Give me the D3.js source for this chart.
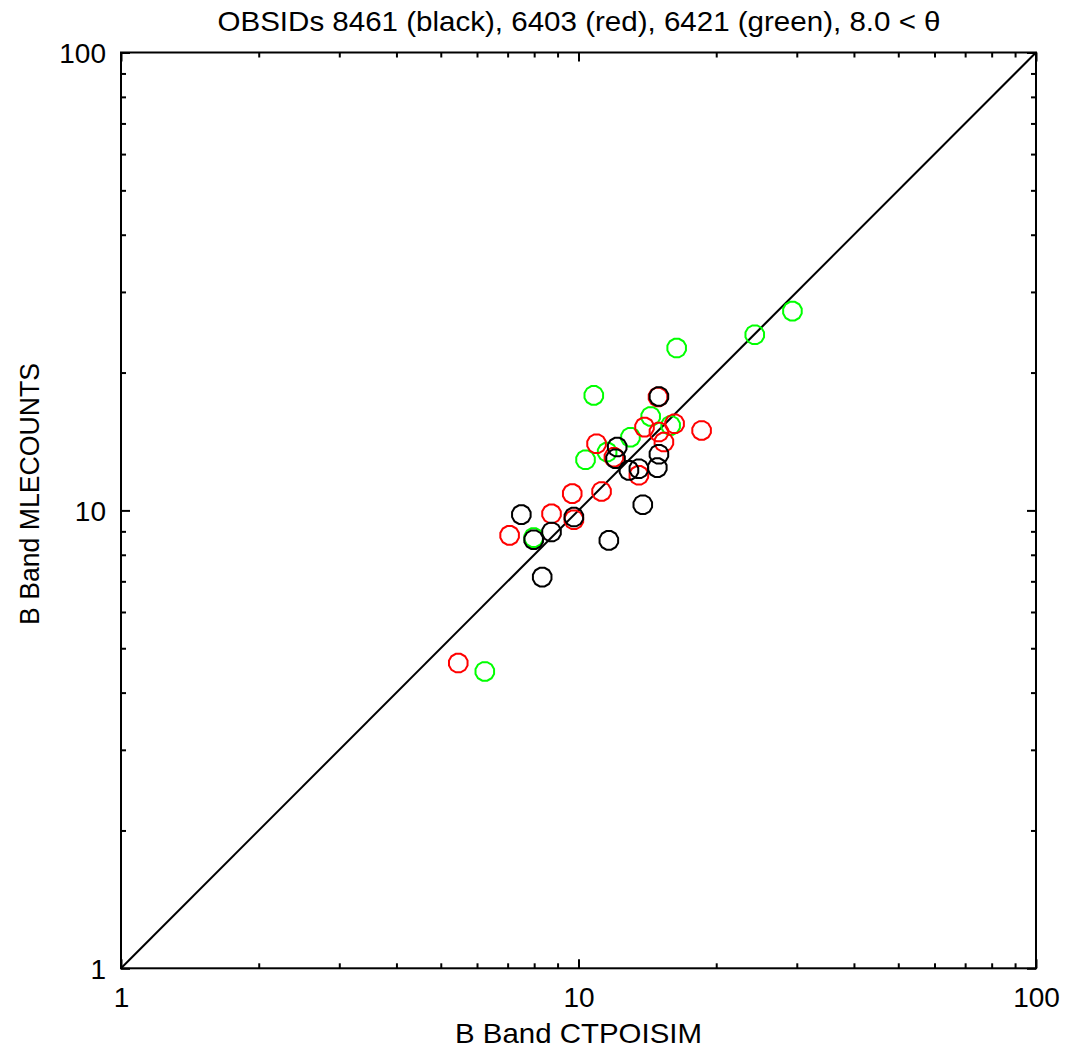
<!DOCTYPE html>
<html>
<head>
<meta charset="utf-8">
<script src="https://cdn.jsdelivr.net/npm/d3@7"></script>
<style>
  html, body { margin: 0; padding: 0; background: #fff; }
  svg text { font-family: "Liberation Sans", Arial, Helvetica, sans-serif; fill: #000; }
</style>
</head>
<body>
<svg id="chart" width="1068" height="1064"></svg>
<script>
// ---- data ----
const titleText = "OBSIDs 8461 (black), 6403 (red), 6421 (green), 8.0 < \u03B8";
const xLabel = "B Band CTPOISIM";
const yLabel = "B Band MLECOUNTS";
const majorTicks = [1, 10, 100];
const tickLabels = ["1", "10", "100"];
const minorTicks = [2,3,4,5,6,7,8,9,20,30,40,50,60,70,80,90];

const blackX = [14.99, 12.15, 12.05, 12.89, 13.55, 14.99, 14.87, 13.82, 7.50, 9.77, 8.73, 7.98, 11.65, 8.33];
const blackY = [17.74, 13.75, 12.97, 12.23, 12.33, 13.26, 12.40, 10.29, 9.79, 9.67, 8.97, 8.63, 8.60, 7.15];

const redX = [14.92, 13.94, 16.22, 14.99, 15.37, 18.58, 10.95, 11.95, 13.55, 9.69, 11.23, 8.73, 9.77, 7.07, 5.46];
const redY = [17.68, 15.20, 15.46, 14.83, 14.10, 14.95, 13.98, 13.07, 11.93, 10.88, 11.00, 9.83, 9.54, 8.82, 4.64];

const greenX = [29.35, 24.28, 16.39, 10.80, 14.38, 15.90, 12.99, 10.36, 11.55, 7.98, 6.24];
const greenY = [27.24, 24.19, 22.62, 17.83, 16.04, 15.33, 14.45, 12.90, 13.41, 8.72, 4.45];

const lineX = [1, 100];
const lineY = [1, 100];

// ---- layout ----
const svg = d3.select("#chart");
const L = 121, R = 1036, T = 52.5, B = 968.3;

const x = d3.scaleLog().domain([1, 100]).range([L, R]);
const y = d3.scaleLog().domain([1, 100]).range([B, T]);

const fs = 28;

function styleAxis(g) {
  g.select(".domain").remove();
  g.selectAll(".tick line").attr("stroke", "#000").attr("stroke-width", 2);
}

const axes = [
  {name: "bottom", gen: d3.axisBottom, t: `translate(0,${B})`, sc: x, labels: true},
  {name: "top", gen: d3.axisTop, t: `translate(0,${T})`, sc: x, labels: false},
  {name: "left", gen: d3.axisLeft, t: `translate(${L},0)`, sc: y, labels: true},
  {name: "right", gen: d3.axisRight, t: `translate(${R},0)`, sc: y, labels: false},
];
axes.forEach(a => {
  const major = a.gen(a.sc).tickValues(majorTicks).tickSizeInner(-9).tickSizeOuter(0)
    .tickFormat((d, i) => a.labels ? tickLabels[i] : "");
  const gM = svg.append("g").attr("class", "axis-" + a.name).attr("transform", a.t).call(major);
  styleAxis(gM);
  gM.selectAll(".tick text").attr("font-size", fs).attr("font-family", "Liberation Sans, Arial, sans-serif");
  const minor = a.gen(a.sc).tickValues(minorTicks).tickSizeInner(-5).tickSizeOuter(0).tickFormat("");
  const gm = svg.append("g").attr("transform", a.t).call(minor);
  styleAxis(gm);
});

// position tick labels
svg.select(".axis-bottom").selectAll(".tick text")
  .attr("y", 0).attr("dy", 0).attr("transform", "translate(0,39)");
svg.select(".axis-left").selectAll(".tick text")
  .attr("x", 0).attr("dy", 0).attr("text-anchor", "end").attr("transform", "translate(-15,10)");

// frame
svg.append("rect").attr("x", L).attr("y", T).attr("width", R - L).attr("height", B - T)
  .attr("fill", "none").attr("stroke", "#000").attr("stroke-width", 2);

// diagonal line
const line = d3.line().x(d => x(d[0])).y(d => y(d[1]));
svg.append("path").datum(d3.zip(lineX, lineY)).attr("d", line)
  .attr("fill", "none").attr("stroke", "#000").attr("stroke-width", 2);

// polygon-circle symbol (IDL-like)
const polyCircle = {
  draw(ctx, size) {
    const r = Math.sqrt(size / Math.PI);
    const n = 12;
    for (let i = 0; i < n; i++) {
      const a = 2 * Math.PI * i / n + Math.PI / n;
      const px = r * Math.cos(a), py = r * Math.sin(a);
      if (i === 0) ctx.moveTo(px, py); else ctx.lineTo(px, py);
    }
    ctx.closePath();
  }
};
const sym = d3.symbol().type(polyCircle).size(Math.PI * 9.6 * 9.6);

const series = [
  {xs: greenX, ys: greenY, color: "#00ff00"},
  {xs: redX, ys: redY, color: "#ff0000"},
  {xs: blackX, ys: blackY, color: "#000000"},
];
series.forEach(s => {
  svg.append("g").selectAll("path").data(d3.zip(s.xs, s.ys)).join("path")
    .attr("d", sym)
    .attr("transform", d => `translate(${x(d[0])},${y(d[1])})`)
    .attr("fill", "none").attr("stroke", s.color).attr("stroke-width", 2);
});

// title and axis labels
svg.append("text").attr("x", 579).attr("y", 31).attr("text-anchor", "middle")
  .attr("font-size", fs).attr("textLength", 723).attr("lengthAdjust", "spacingAndGlyphs").text(titleText);
svg.append("text").attr("x", 578.5).attr("y", 1043).attr("text-anchor", "middle")
  .attr("font-size", fs).attr("textLength", 247).attr("lengthAdjust", "spacingAndGlyphs").text(xLabel);
svg.append("text").attr("transform", `translate(39,494) rotate(-90)`).attr("text-anchor", "middle")
  .attr("font-size", fs).attr("textLength", 262).attr("lengthAdjust", "spacingAndGlyphs").text(yLabel);
</script>
</body>
</html>
